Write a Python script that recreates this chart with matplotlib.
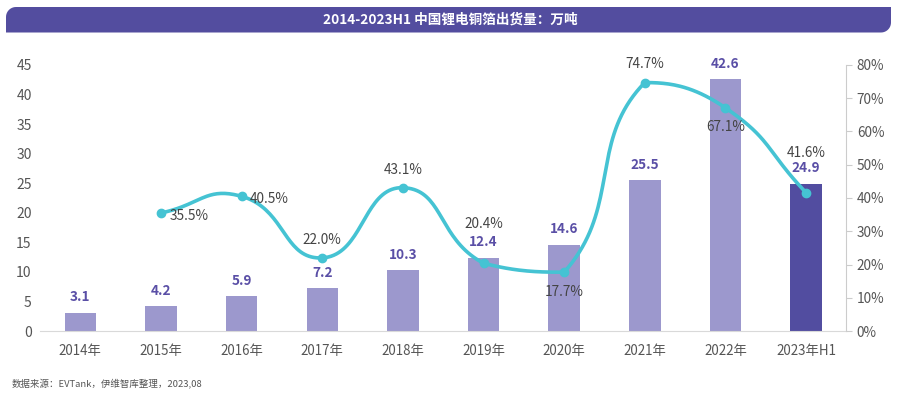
import numpy as np
import matplotlib.pyplot as plt
from matplotlib.patches import Polygon

plt.rcParams['font.family'] = ['Noto Sans CJK SC', 'DejaVu Sans']

years = ["2014年", "2015年", "2016年", "2017年", "2018年", "2019年", "2020年", "2021年", "2022年", "2023年H1"]
shipments = [3.1, 4.2, 5.9, 7.2, 10.3, 12.4, 14.6, 25.5, 42.6, 24.9]
growth = [None, 35.5, 40.5, 22.0, 43.1, 20.4, 17.7, 74.7, 67.1, 41.6]
# where each growth label sits relative to its point
growth_pos = [None, "right", "right", "above", "above", "high", "below", "above", "below", "high"]

title = "2014-2023H1 中国锂电铜箔出货量：万吨"
source = "数据来源：EVTank，伊维智库整理，2023,08"

bar_color = "#9c98cd"
last_color = "#524da0"
line_color = "#45c3d3"
label_color = "#5a4fa6"
text_color = "#555555"
banner_color = "#534d9f"


def smooth_curve(x, y, sx=80.6, sy=3.325, s=0.5, n=40):
    # bezier smoothing, control points kept inside the bounding box of the series
    P = np.column_stack([np.asarray(x) * sx, np.asarray(y) * sy])
    lo, hi = P.min(axis=0), P.max(axis=0)
    m = len(P)
    cin = P.copy()
    cout = P.copy()
    for i in range(m):
        p = P[i]
        prev = P[max(i - 1, 0)]
        nxt = P[min(i + 1, m - 1)]
        v = (nxt - prev) * s
        d0 = np.linalg.norm(p - prev)
        d1 = np.linalg.norm(nxt - p)
        tot = d0 + d1
        cin[i] = np.clip(p - v * d0 / tot, lo, hi)
        cout[i] = np.clip(p + v * d1 / tot, lo, hi)
    out = []
    t = np.linspace(0, 1, n)[:, None]
    for i in range(m - 1):
        p1, c1, c2, p2 = P[i], cout[i], cin[i + 1], P[i + 1]
        out.append((1 - t) ** 3 * p1 + 3 * (1 - t) ** 2 * t * c1 + 3 * (1 - t) * t ** 2 * c2 + t ** 3 * p2)
    out = np.vstack(out)
    return out[:, 0] / sx, out[:, 1] / sy


fig = plt.figure(figsize=(9.03, 3.96), dpi=100)

# background layer in pixel coords for the title banner
bg = fig.add_axes([0, 0, 1, 1], zorder=-1)
bg.set_xlim(0, 903)
bg.set_ylim(396, 0)
bg.axis("off")
r = 10
a = np.linspace(0, np.pi / 2, 12)
left, right, top, bottom = 6, 891, 7, 32.5
tl = np.column_stack([left + r - r * np.cos(a), top + r - r * np.sin(a)])
br = np.column_stack([right - r + r * np.cos(a), bottom - r + r * np.sin(a)])
pts = np.vstack([[[left, bottom]], tl, [[right, top]], br])
bg.add_patch(Polygon(pts, closed=True, facecolor=banner_color, edgecolor="none"))
bg.text(450.5, 19.5, title, ha="center", va="center", fontsize=9.8, fontweight="bold", color="white")
bg.text(12, 384, source, ha="left", va="center", fontsize=6.8, color=text_color)

ax = fig.add_axes([0.0443, 0.164, 0.893, 0.672])
ax.patch.set_alpha(0)

x = np.arange(len(years))
colors = [bar_color] * (len(years) - 1) + [last_color]
ax.bar(x, shipments, width=0.39, color=colors, zorder=2)
for xi, v in zip(x, shipments):
    ax.annotate(f"{v}", (xi, v), xytext=(0, 6), textcoords="offset points",
                ha="center", va="bottom", fontsize=9.8, fontweight="bold", color=label_color)

ax.set_xlim(-0.5, len(years) - 0.5)
ax.set_ylim(0, 45)
ax.set_yticks(np.arange(0, 46, 5))
ax.set_xticks(x)
ax.set_xticklabels(years)
ax.tick_params(axis="x", length=0, pad=9, labelsize=9.6, labelcolor=text_color)
ax.tick_params(axis="y", length=0, pad=6, labelsize=10, labelcolor=text_color)
for side in ["top", "right", "left"]:
    ax.spines[side].set_visible(False)
ax.spines["bottom"].set_color("#d9d9d9")

ax2 = ax.twinx()
gx = np.array([i for i, g in enumerate(growth) if g is not None], dtype=float)
gy = np.array([g for g in growth if g is not None])
cx, cy = smooth_curve(gx, gy)
ax2.plot(cx, cy, color=line_color, lw=2.6, zorder=3)
ax2.plot(gx, gy, "o", color=line_color, ms=6, zorder=4)
for xi, g, pos in zip(gx, gy, [p for p in growth_pos if p is not None]):
    if pos == "right":
        off, ha, va = (6, -2), "left", "center"
    elif pos == "above":
        off, ha, va = (0, 8), "center", "bottom"
    elif pos == "high":
        off, ha, va = (0, 23.5), "center", "bottom"
    else:
        off, ha, va = (0, -9), "center", "top"
    ax2.annotate(f"{g:.1f}%", (xi, g), xytext=off, textcoords="offset points",
                 ha=ha, va=va, fontsize=9.8, color="#444444", zorder=5)
ax2.set_ylim(0, 80)
ax2.set_yticks(np.arange(0, 81, 10))
ax2.set_yticklabels([f"{v}%" for v in range(0, 81, 10)])
ax2.tick_params(axis="y", length=4, color="#cccccc", labelsize=9.8, labelcolor=text_color)
for side in ["top", "left", "bottom"]:
    ax2.spines[side].set_visible(False)
ax2.spines["right"].set_color("#cccccc")

fig.savefig("out.png", dpi=100)
